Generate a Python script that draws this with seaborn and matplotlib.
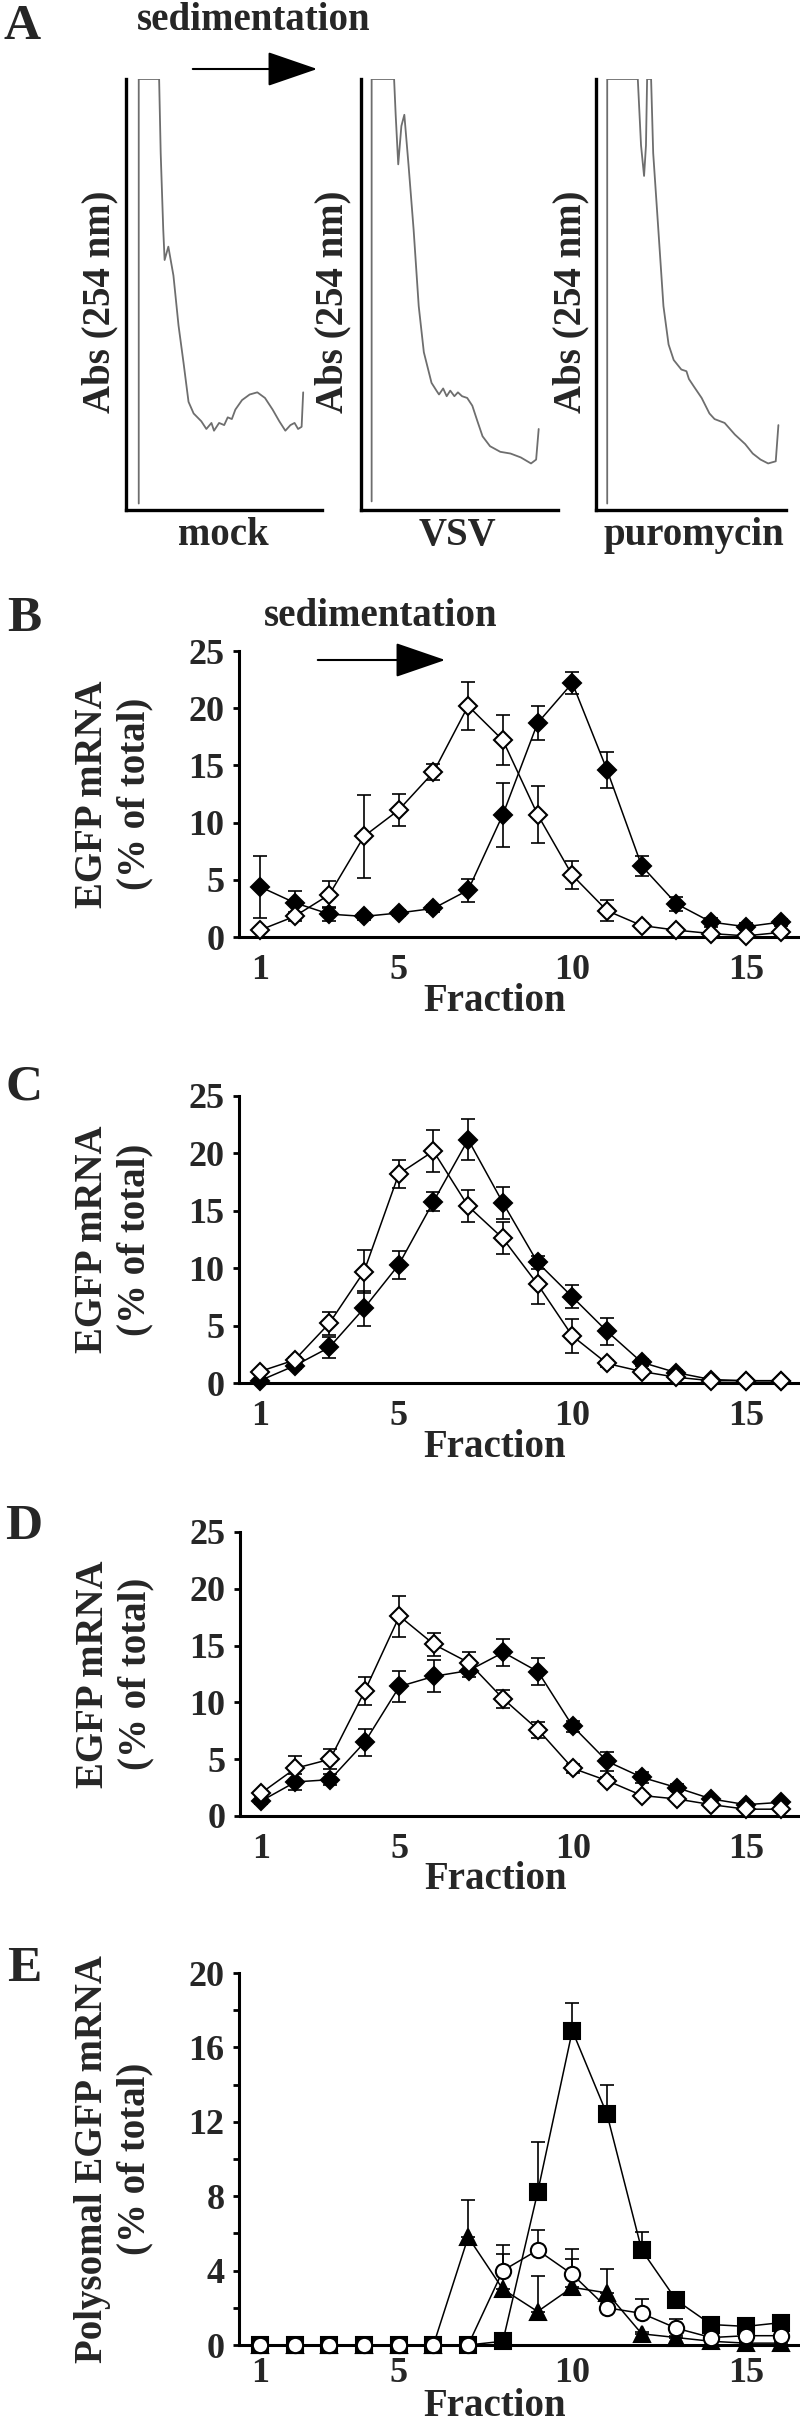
import numpy as np
import pandas as pd
import seaborn as sns
import matplotlib.pyplot as plt
from matplotlib.patches import FancyArrowPatch
from matplotlib.ticker import MultipleLocator

sns.set_style("ticks")
plt.rcParams['font.family'] = ['Liberation Serif', 'DejaVu Serif']
plt.rcParams['font.weight'] = 'bold'

# ---- panel A: absorbance traces (x, y as fraction of the plot box) ----
mock_x = [0.065, 0.065, 0.169, 0.177, 0.190, 0.197, 0.216, 0.242, 0.268, 0.294, 0.319, 0.345,
          0.384, 0.410, 0.436, 0.449, 0.475, 0.501, 0.519, 0.540, 0.558, 0.592, 0.631, 0.670,
          0.709, 0.748, 0.782, 0.813, 0.839, 0.860, 0.878, 0.896, 0.904]
mock_y = [0.015, 1.0, 1.0, 0.828, 0.651, 0.580, 0.611, 0.544, 0.428, 0.340, 0.251, 0.224,
          0.206, 0.188, 0.202, 0.184, 0.202, 0.197, 0.215, 0.211, 0.233, 0.255, 0.268, 0.273,
          0.260, 0.233, 0.206, 0.184, 0.197, 0.202, 0.188, 0.193, 0.273]
vsv_x = [0.054, 0.054, 0.168, 0.176, 0.189, 0.205, 0.220, 0.241, 0.267, 0.293, 0.319, 0.358,
         0.383, 0.396, 0.417, 0.435, 0.453, 0.474, 0.492, 0.513, 0.539, 0.565, 0.591, 0.617,
         0.655, 0.707, 0.759, 0.811, 0.863, 0.889, 0.902]
vsv_y = [0.020, 1.0, 1.0, 0.917, 0.802, 0.891, 0.917, 0.802, 0.651, 0.473, 0.366, 0.295,
         0.277, 0.268, 0.282, 0.264, 0.277, 0.264, 0.273, 0.264, 0.260, 0.242, 0.206, 0.171,
         0.148, 0.135, 0.131, 0.122, 0.108, 0.117, 0.188]
puro_x = [0.059, 0.059, 0.220, 0.237, 0.253, 0.263, 0.269, 0.290, 0.301, 0.328, 0.355, 0.382,
          0.409, 0.449, 0.476, 0.489, 0.516, 0.556, 0.597, 0.624, 0.677, 0.731, 0.785, 0.825,
          0.866, 0.906, 0.946, 0.960]
puro_y = [0.015, 1.0, 1.0, 0.846, 0.775, 0.846, 1.0, 1.0, 0.828, 0.651, 0.473, 0.384,
          0.348, 0.326, 0.322, 0.304, 0.286, 0.260, 0.224, 0.211, 0.202, 0.175, 0.153, 0.131,
          0.117, 0.108, 0.113, 0.197]
a_names = ["mock", "VSV", "puromycin"]

# ---- panels B-D: EGFP mRNA per fraction ----
fractions = list(range(1, 17))
b_filled = [4.4, 3.0, 2.0, 1.8, 2.1, 2.5, 4.1, 10.7, 18.7, 22.2, 14.6, 6.2, 2.9, 1.3, 0.9, 1.3]
b_filled_err = [2.7, 1.0, 0.6, 0.3, 0.3, 0.3, 1.0, 2.8, 1.5, 1.0, 1.6, 0.9, 0.6, 0.4, 0.3, 0.3]
b_open = [0.6, 1.8, 3.7, 8.8, 11.1, 14.4, 20.2, 17.2, 10.7, 5.4, 2.3, 1.0, 0.6, 0.3, 0.1, 0.4]
b_open_err = [0.2, 0.4, 1.2, 3.6, 1.4, 0.7, 2.1, 2.2, 2.5, 1.2, 0.9, 0.2, 0.1, 0.1, 0.1, 0.1]

c_filled = [0.2, 1.5, 3.1, 6.5, 10.3, 15.8, 21.2, 15.7, 10.5, 7.5, 4.5, 1.8, 0.9, 0.3, 0.2, 0.2]
c_filled_err = [0.1, 0.3, 0.9, 1.5, 1.2, 0.8, 1.8, 1.4, 0.6, 1.0, 1.2, 0.3, 0.2, 0.1, 0.1, 0.1]
c_open = [1.0, 2.0, 5.2, 9.7, 18.2, 20.2, 15.4, 12.6, 8.6, 4.1, 1.7, 1.0, 0.5, 0.2, 0.2, 0.2]
c_open_err = [0.1, 0.3, 1.0, 1.9, 1.2, 1.8, 1.4, 1.4, 1.7, 1.5, 0.3, 0.2, 0.1, 0.1, 0.1, 0.1]

d_filled = [1.3, 3.0, 3.2, 6.5, 11.4, 12.3, 12.8, 14.4, 12.7, 7.9, 4.8, 3.4, 2.5, 1.5, 1.0, 1.2]
d_filled_err = [0.2, 0.7, 0.5, 1.2, 1.4, 1.4, 0.6, 1.2, 1.2, 0.5, 0.8, 0.5, 0.3, 0.2, 0.2, 0.2]
d_open = [2.0, 4.2, 5.0, 11.0, 17.6, 15.1, 13.5, 10.3, 7.6, 4.2, 3.1, 1.8, 1.5, 1.0, 0.6, 0.6]
d_open_err = [0.2, 1.1, 0.9, 1.2, 1.8, 1.0, 0.9, 0.8, 0.7, 0.4, 0.3, 0.2, 0.2, 0.1, 0.1, 0.1]

# ---- panel E: polysomal EGFP mRNA ----
e_square = [0, 0, 0, 0, 0, 0, 0, 0.2, 8.2, 16.9, 12.4, 5.1, 2.4, 1.1, 1.0, 1.2]
e_square_err = [0, 0, 0, 0, 0, 0, 0, 0, 2.7, 1.5, 1.6, 1.0, 0.3, 0.1, 0.1, 0.1]
e_triangle = [0, 0, 0, 0, 0, 0, 5.8, 3.0, 1.8, 3.1, 2.8, 0.6, 0.4, 0.2, 0.1, 0.1]
e_triangle_err = [0, 0, 0, 0, 0, 0, 2.0, 1.9, 1.9, 1.5, 1.3, 0.1, 0.1, 0.1, 0.1, 0.1]
e_circle = [0, 0, 0, 0, 0, 0, 0, 4.0, 5.1, 3.8, 2.0, 1.7, 0.9, 0.4, 0.5, 0.5]
e_circle_err = [0, 0, 0, 0, 0, 0, 0, 1.4, 1.1, 1.35, 0.2, 0.75, 0.5, 0.1, 0.1, 0.1]

W, H = 800, 2429
fig = plt.figure(figsize=(W / 100, H / 100), dpi=100)


def rect(left, top, right, bottom):
    return [left / W, 1 - bottom / H, (right - left) / W, (bottom - top) / H]


def arrow(x0, x1, y):
    fig.add_artist(FancyArrowPatch(
        (x0 / W, 1 - y / H), (x1 / W, 1 - y / H), transform=fig.transFigure,
        arrowstyle='-|>,head_length=1.6,head_width=0.55', mutation_scale=20,
        color='black', lw=1.5))


# panel A
a_boxes = [(126, 79, 322, 510), (361, 79, 558, 510), (596, 79, 786, 510)]
a_traces = [(mock_x, mock_y), (vsv_x, vsv_y), (puro_x, puro_y)]
a_ylab_x = [-0.133, -0.142, -0.132]
a_xlab_x = [0.495, 0.487, 0.516]
for box, (tx, ty), name, yl, xl in zip(a_boxes, a_traces, a_names, a_ylab_x, a_xlab_x):
    ax = fig.add_axes(rect(*box))
    df = pd.DataFrame({"x": tx, "y": ty})
    sns.lineplot(data=df, x="x", y="y", ax=ax, sort=False, estimator=None,
                 color='#6e6e6e', lw=1.3)
    ax.set_xlim(0, 1)
    ax.set_ylim(0, 1)
    sns.despine(ax=ax)
    for s in ['left', 'bottom']:
        ax.spines[s].set_linewidth(2.4)
        ax.spines[s].set_color('black')
    ax.set_xticks([])
    ax.set_yticks([])
    ax.set_xlabel(name, fontsize=28, fontweight='bold')
    ax.xaxis.set_label_coords(xl, -0.06)
    ax.xaxis.label.set_va('center')
    ax.set_ylabel("Abs (254 nm)", fontsize=28, fontweight='bold')
    ax.yaxis.set_label_coords(yl, 0.483)
    ax.yaxis.label.set_va('center')

fig.text(254 / W, 1 - 20 / H, "sedimentation", fontsize=28, fontweight='bold',
         ha='center', va='center')
arrow(190, 320, 69)


def style_axes(ax, ylabel, ymax, ystep, xlab_y=-0.225, xpad=12):
    ax.set_xlim(0.4, 16.5)
    ax.set_ylim(0, ymax)
    sns.despine(ax=ax)
    for s in ['left', 'bottom']:
        ax.spines[s].set_linewidth(2.2)
        ax.spines[s].set_color('black')
    ax.set_xticks([1, 5, 10, 15])
    ax.yaxis.set_major_locator(MultipleLocator(ystep))
    ax.tick_params(axis='y', length=4.5, width=2, labelsize=26, pad=6, color='black')
    ax.tick_params(axis='x', length=0, labelsize=26, pad=xpad)
    for lab in ax.get_xticklabels() + ax.get_yticklabels():
        lab.set_fontweight('bold')
    ax.set_xlabel("Fraction", fontsize=28, fontweight='bold')
    ax.xaxis.set_label_coords(0.458, xlab_y)
    ax.xaxis.label.set_va('center')
    ax.set_ylabel(ylabel, fontsize=28, fontweight='bold', linespacing=1.2)
    ax.yaxis.set_label_coords(-0.224, 0.5)
    ax.yaxis.label.set_va('center')


def series(ax, y, err, marker, face, ms, upper_only=False, z=3):
    yerr = [np.zeros(len(err)), err] if upper_only else err
    ax.errorbar(fractions, y, yerr=yerr, fmt='none', ecolor='black', elinewidth=1.2,
                capsize=5, capthick=1.2, zorder=z)
    sns.lineplot(x=fractions, y=y, ax=ax, color='black', lw=1.1, marker=marker,
                 markersize=ms, markerfacecolor=face, markeredgecolor='black',
                 markeredgewidth=1.5, zorder=z + 0.5)
    ax.lines[-1].set_clip_on(False)


panels = [
    ((239, 651, 798, 937), b_filled, b_filled_err, b_open, b_open_err),
    ((239, 1096, 798, 1383), c_filled, c_filled_err, c_open, c_open_err),
    ((240, 1532, 798, 1816), d_filled, d_filled_err, d_open, d_open_err),
]
for box, fy, fe, oy, oe in panels:
    ax = fig.add_axes(rect(*box))
    series(ax, fy, fe, 'D', 'black', 9, z=3)
    series(ax, oy, oe, 'D', 'white', 9, z=4)
    style_axes(ax, "EGFP mRNA\n(% of total)", 25, 5)

fig.text(381 / W, 1 - 617 / H, "sedimentation", fontsize=28, fontweight='bold',
         ha='center', va='center')
arrow(315, 448, 660)

ax = fig.add_axes(rect(239, 1973, 798, 2345))
series(ax, e_triangle, e_triangle_err, '^', 'black', 12, upper_only=True, z=3)
series(ax, e_square, e_square_err, 's', 'black', 12, upper_only=True, z=4)
series(ax, e_circle, e_circle_err, 'o', 'white', 11, upper_only=True, z=5)
style_axes(ax, "Polysomal EGFP mRNA\n(% of total)", 20, 4, xlab_y=-(2406 - 2345) / 372, xpad=9)
ax.yaxis.set_minor_locator(MultipleLocator(2))
ax.tick_params(axis='y', which='minor', length=4.5, width=2, color='black')

for letter, x, y in [("A", 3, 4), ("B", 7, 596), ("C", 5, 1064), ("D", 5, 1504), ("E", 7, 1946)]:
    fig.text(x / W, 1 - y / H, letter, fontsize=37, fontweight='bold', ha='left', va='top')

fig.savefig("out.png", dpi=100, facecolor='white')
